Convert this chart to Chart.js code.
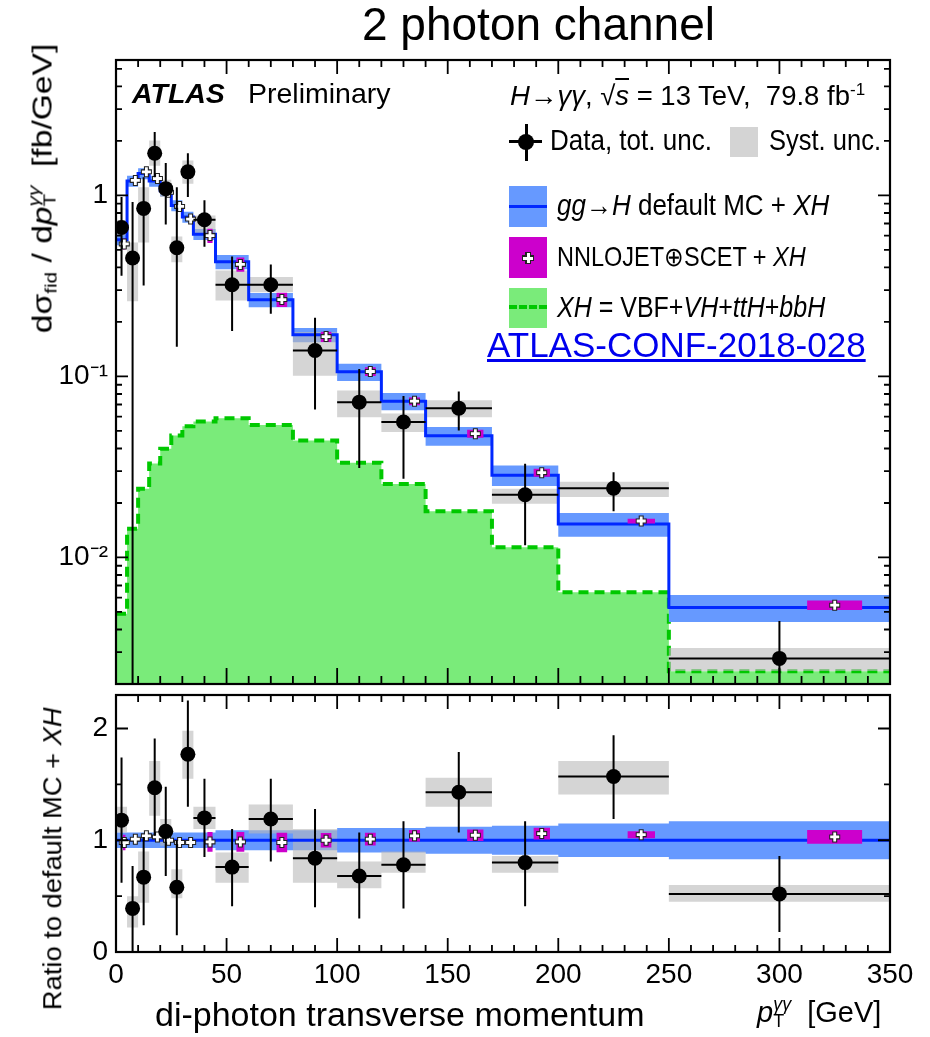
<!DOCTYPE html>
<html>
<head>
<meta charset="utf-8">
<title>2 photon channel</title>
<script src="https://cdn.jsdelivr.net/npm/chart.js@4/dist/chart.umd.min.js"></script>
<style>
html,body{margin:0;padding:0;background:#fff;}
body{position:relative;width:930px;height:1037px;overflow:hidden;font-family:"Liberation Sans",Arial,Helvetica,sans-serif;color:#000;}
canvas{position:absolute;left:0;}
.t{position:absolute;white-space:nowrap;line-height:1;}
.lg{transform:scaleY(1.15);transform-origin:0 0.8465em;}
.stk{display:inline-block;vertical-align:-0.28em;line-height:0.95;font-size:0.62em;text-align:left;}
.sw{position:absolute;}
</style>
</head>
<body>
<canvas id="cTop" width="930" height="710" style="top:0"></canvas>
<canvas id="cRatio" width="930" height="367" style="top:670px"></canvas>

<div class="t" style="left:362px;top:1px;font-size:46px;">2 photon channel</div>
<div class="t" style="left:132px;top:79px;font-size:28.5px;font-weight:bold;font-style:italic;">ATLAS</div>
<div class="t" style="left:248px;top:79px;font-size:28.5px;">Preliminary</div>
<div class="t" style="left:510px;top:82px;font-size:27.5px;"><i>H</i>→<i>γγ</i>, √<span style="text-decoration:overline"><i>s</i></span> = 13 TeV,&nbsp; 79.8 fb<sup style="font-size:0.62em;vertical-align:0.6em;line-height:0">-1</sup></div>

<!-- legend swatches -->
<div class="sw" style="left:525px;top:124px;width:2.5px;height:37px;background:#000"></div>
<div class="sw" style="left:509px;top:140px;width:33px;height:2.5px;background:#000"></div>
<div class="sw" style="left:518px;top:133.5px;width:16px;height:16px;border-radius:50%;background:#000"></div>
<div class="sw" style="left:730px;top:127px;width:28px;height:30px;background:#d4d4d4"></div>
<div class="sw" style="left:509px;top:186px;width:38px;height:41px;background:rgb(102,153,255)"></div>
<div class="sw" style="left:509px;top:205px;width:38px;height:3px;background:rgb(0,40,255)"></div>
<div class="sw" style="left:509px;top:237px;width:38px;height:41px;background:rgb(204,0,204)"></div>
<div class="sw" style="left:522px;top:255px;width:12px;height:6px;background:#222"></div>
<div class="sw" style="left:525px;top:252px;width:6px;height:12px;background:#222"></div>
<div class="sw" style="left:523px;top:256.5px;width:10px;height:3px;background:#fff"></div>
<div class="sw" style="left:526.5px;top:253px;width:3px;height:10px;background:#fff"></div>
<div class="sw" style="left:509px;top:288px;width:38px;height:40px;background:rgb(122,235,122)"></div>
<div class="sw" style="left:509px;top:305px;width:38px;height:0;border-top:4.5px dashed rgb(0,200,0)"></div>

<!-- legend text -->
<div class="t lg" style="left:550px;top:128px;font-size:26px;">Data, tot. unc.</div>
<div class="t lg" style="left:769px;top:128.5px;font-size:25.5px;">Syst. unc.</div>
<div class="t lg" style="left:557px;top:193px;font-size:26px;"><i>gg</i>→<i>H</i> default MC + <i>XH</i></div>
<div class="t lg" style="left:557px;top:247px;font-size:23.5px;">NNLOJET⊕SCET + <i>XH</i></div>
<div class="t lg" style="left:557px;top:296px;font-size:25px;"><i>XH</i> = VBF+<i>VH</i>+<i>ttH</i>+<i>bbH</i></div>

<div class="t" style="left:487px;top:327px;font-size:35px;color:#0000ee;text-decoration:underline;">ATLAS-CONF-2018-028</div>

<!-- axis titles -->
<div class="t" style="left:-138px;top:172px;width:360px;text-align:center;font-size:28px;transform:rotate(-90deg) scaleX(1.2);">dσ<span style="font-size:0.62em;vertical-align:-0.3em;line-height:0">fid</span> / d<i>p</i><span class="stk"><i>γγ</i><br>T</span>&nbsp; [fb/GeV]</div>
<div class="t" style="left:-117px;top:846px;width:340px;text-align:center;font-size:25.5px;transform:rotate(-90deg) scaleX(1.07);">Ratio to default MC + <i>XH</i></div>
<div class="t" style="left:155px;top:997px;font-size:34px;">di-photon transverse momentum</div>
<div class="t" style="left:757px;top:996px;font-size:29px;"><i>p</i><span class="stk"><i>γγ</i><br>T</span>&nbsp; [GeV]</div>

<script>
// ---------------- data ----------------
const binEdges   = [0,5,10,15,20,25,30,35,45,60,80,100,120,140,170,200,250,350];
const binCenters = [2.5,7.5,12.5,17.5,22.5,27.5,32.5,40,52.5,70,90,110,130,155,185,225,300];

const xTickValues = [0,50,100,150,200,250,300,350];
const xTickLabels = ['0','50','100','150','200','250','300','350'];
const yTopTickValues = [0.01,0.1,1];
const yTopTickLabels = ['10⁻²','10⁻¹','1'];
const yRatioTickValues = [0,1,2];
const yRatioTickLabels = ['0','1','2'];

// measured cross section [fb/GeV]
const dataXsec   = [0.665,0.451,0.848,1.71,1.09,0.514,1.35,0.734,0.321,0.321,0.139,0.0721,0.056,0.0668,0.0222,0.0241,0.00277];
const dataTotHi  = [0.98,0.92,1.26,2.24,1.51,1.11,1.71,0.94,0.46,0.416,0.211,0.110,0.0781,0.0826,0.0329,0.0296,0.00446];
const dataTotLo  = [0.36,0.001,0.318,1.26,0.69,0.146,0.98,0.52,0.178,0.222,0.0657,0.0312,0.0272,0.0503,0.0117,0.0180,0.001];
const dataSystHi = [0.73,0.55,1.11,2.01,1.22,0.594,1.56,0.775,0.385,0.354,0.176,0.0837,0.0625,0.0738,0.0240,0.0262,0.00316];
const dataSystLo = [0.60,0.26,0.55,1.46,0.98,0.428,1.16,0.617,0.263,0.292,0.101,0.0596,0.0494,0.0596,0.0198,0.0216,0.00236];

// gg->H default MC + XH
const defaultMC       = [0.57,1.2,1.32,1.2,1.06,0.88,0.76,0.61,0.43,0.265,0.17,0.106,0.073,0.047,0.0285,0.0153,0.0053];
const defaultMCRelUnc = [0.07,0.07,0.07,0.07,0.07,0.07,0.07,0.07,0.09,0.09,0.09,0.11,0.11,0.12,0.13,0.15,0.17];

// XH = VBF+VH+ttH+bbH
const xhVal = [0.00489,0.0144,0.0240,0.033,0.0399,0.0472,0.053,0.0564,0.0588,0.054,0.0443,0.0334,0.0255,0.0180,0.0114,0.00643,0.00235];

// NNLOJET+SCET + XH
const nnloX      = [3.75,8.75,13.75,18.75,23.75,28.75,33.75,42.5,56.25,75,95,115,135,162.5,192.5,237.5,325];
const nnloVal    = [0.54,1.21,1.35,1.24,1.04,0.87,0.74,0.60,0.416,0.266,0.166,0.1065,0.073,0.0483,0.0294,0.0159,0.00545];
const nnloRelUnc = [0.07,0.03,0.03,0.03,0.03,0.03,0.03,0.09,0.09,0.09,0.065,0.057,0.05,0.05,0.05,0.03,0.06];
const nnloRatio  = [0.98,1.01,1.04,1.03,1.0,0.98,0.98,0.985,0.985,0.98,1.0,1.01,1.04,1.045,1.06,1.05,1.03];

// ratio to default MC + XH
const ratioVal    = [1.18,0.39,0.67,1.47,1.08,0.58,1.77,1.2,0.76,1.19,0.84,0.68,0.78,1.43,0.8,1.57,0.52];
const ratioTotHi  = [1.74,0.77,1.03,1.91,1.48,1.0,2.25,1.55,1.1,1.55,1.28,1.07,1.17,1.79,1.17,1.94,0.86];
const ratioTotLo  = [0.62,0,0.24,1.04,0.68,0.15,1.3,0.85,0.41,0.81,0.4,0.3,0.39,1.07,0.41,1.19,0.18];
const ratioSystHi = [1.30,0.5,0.9,1.71,1.19,0.74,1.98,1.3,0.89,1.32,1.1,0.81,0.9,1.56,0.86,1.71,0.6];
const ratioSystLo = [1.07,0.22,0.44,1.22,0.95,0.48,1.55,1.1,0.62,1.06,0.62,0.57,0.71,1.30,0.71,1.41,0.45];
const ratioReference = 1;

// ---------------- styles ----------------
const FONT = '"Liberation Sans", Arial, Helvetica, sans-serif';
const C = {
  green: 'rgb(122,235,122)', greenLine: 'rgb(0,200,0)',
  band: 'rgb(102,153,255)', mcLine: 'rgb(0,40,255)',
  syst: 'rgba(185,185,185,0.6)', magenta: 'rgb(204,0,204)'
};

// ---------------- helpers building library data ----------------
function stepPoints(vals){
  const pts = vals.map((v,i)=>({x:binEdges[i], y:v}));
  pts.push({x:binEdges[binEdges.length-1], y:vals[vals.length-1]});
  return pts;
}
function vBarPoints(lo, hi){
  const pts = [];
  binCenters.forEach((x,i)=>{ pts.push({x, y:lo[i]}, {x, y:hi[i]}, {x, y:null}); });
  return pts;
}
function hBarPoints(vals){
  const pts = [];
  vals.forEach((v,i)=>{ pts.push({x:binEdges[i], y:v}, {x:binEdges[i+1], y:v}, {x:binEdges[i+1], y:null}); });
  return pts;
}
function boxPoints(vals){
  const pts = [];
  vals.forEach((v,i)=>{
    const w = binEdges[i+1]-binEdges[i];
    const x0 = nnloX[i]-w/8, x1 = nnloX[i]+w/8;
    pts.push({x:x0, y:v}, {x:x1, y:v}, {x:x1, y:null});
  });
  return pts;
}
function xy(xs, ys){ return xs.map((x,i)=>({x, y:ys[i]})); }
function ds(data, o){
  return Object.assign({type:'line', data, fill:false, spanGaps:false, stepped:false, tension:0,
    pointRadius:0, pointHoverRadius:0, pointHitRadius:0,
    borderWidth:0, borderColor:'rgba(0,0,0,0)', backgroundColor:'rgba(0,0,0,0)'}, o);
}

function makeFrame(cfg){
  return {
    id: 'frameTicks',
    afterDraw(chart){
      const {ctx, chartArea:a} = chart;
      const x = chart.scales.x, y = chart.scales.y;
      ctx.save();
      ctx.strokeStyle = '#000';
      ctx.lineWidth = 1.8;
      ctx.beginPath();
      for (let v = 0; v <= 350; v += 10){
        const px = x.getPixelForValue(v);
        const maj = v % 50 === 0;
        ctx.moveTo(px, a.bottom); ctx.lineTo(px, a.bottom - (maj ? cfg.xMajB : cfg.xMinB));
        ctx.moveTo(px, a.top);    ctx.lineTo(px, a.top + (maj ? cfg.xMajT : cfg.xMinT));
      }
      cfg.yTicks().forEach(([v, maj])=>{
        const py = y.getPixelForValue(v);
        const L = maj ? 12 : 6;
        ctx.moveTo(a.left, py);  ctx.lineTo(a.left + L, py);
        ctx.moveTo(a.right, py); ctx.lineTo(a.right - L, py);
      });
      ctx.stroke();
      ctx.lineWidth = 2.2;
      ctx.strokeRect(a.left, a.top, a.right - a.left, a.bottom - a.top);
      ctx.restore();
    }
  };
}
function logTicks(min, max){
  const out = [];
  for (let e = -3; e <= 0; e++) for (let d = 1; d <= 9; d++){
    const v = d * Math.pow(10, e);
    if (v >= min && v <= max) out.push([v, d === 1]);
  }
  return out;
}

const yTopMin = 0.002, yTopMax = 5.6;

// ---------------- top panel ----------------
const mcHi = defaultMC.map((v,i)=>v*(1+defaultMCRelUnc[i]));
const mcLo = defaultMC.map((v,i)=>v*(1-defaultMCRelUnc[i]));
const nnloHi = nnloVal.map((v,i)=>v*(1+nnloRelUnc[i]));
const nnloLo = nnloVal.map((v,i)=>v*(1-nnloRelUnc[i]));

const topDatasets = [
  ds(stepPoints(xhVal), {order:20, stepped:true, fill:'start', backgroundColor:C.green, borderColor:C.greenLine, borderWidth:4, borderDash:[10,6]}),
  ds(stepPoints(mcHi), {order:15, stepped:true, fill:2, backgroundColor:C.band}),
  ds(stepPoints(mcLo), {order:15, stepped:true}),
  ds(stepPoints(dataSystHi), {order:12, stepped:true, fill:4, backgroundColor:C.syst}),
  ds(stepPoints(dataSystLo), {order:12, stepped:true}),
  ds(stepPoints(defaultMC), {order:10, stepped:true, borderColor:C.mcLine, borderWidth:3}),
  ds(boxPoints(nnloHi), {order:8, fill:7, backgroundColor:C.magenta}),
  ds(boxPoints(nnloLo), {order:8}),
  ds(xy(nnloX, nnloVal), {order:6, showLine:false, pointStyle:'cross', pointRadius:5.5, pointBorderColor:'#222', pointBorderWidth:5}),
  ds(xy(nnloX, nnloVal), {order:5, showLine:false, pointStyle:'cross', pointRadius:4.5, pointBorderColor:'#fff', pointBorderWidth:2.8}),
  ds(vBarPoints(dataTotLo, dataTotHi), {order:4, borderColor:'#000', borderWidth:2}),
  ds(hBarPoints(dataXsec), {order:4, borderColor:'#000', borderWidth:2}),
  ds(xy(binCenters, dataXsec), {order:2, showLine:false, pointStyle:'circle', pointRadius:7.5, pointBackgroundColor:'#000', pointBorderWidth:0})
];

new Chart(document.getElementById('cTop'), {
  type:'line',
  data:{datasets: topDatasets},
  options:{
    responsive:false, animation:false, devicePixelRatio:1, events:[],
    layout:{autoPadding:false, padding:{left:0, right:40, top:60, bottom:26}},
    plugins:{legend:{display:false}, tooltip:{enabled:false}},
    scales:{
      x:{type:'linear', min:0, max:350, display:false},
      y:{type:'logarithmic', min:yTopMin, max:yTopMax,
         afterFit(s){ s.width = 116; },
         afterBuildTicks(s){ s.ticks = yTopTickValues.map(v=>({value:v})); },
         grid:{display:false, drawTicks:false, tickLength:0}, border:{display:false},
         ticks:{autoSkip:false, padding:8, color:'#000', font:{family:FONT, size:28},
           callback(v){ const i = yTopTickValues.findIndex(t=>Math.abs(t-v)/t<1e-6); return i>=0 ? yTopTickLabels[i] : ''; }}}
    }
  },
  plugins:[makeFrame({xMajB:16, xMinB:8, xMajT:14, xMinT:7, yTicks:()=>logTicks(yTopMin, yTopMax)})]
});

// ---------------- ratio panel ----------------
const rBandHi = defaultMCRelUnc.map(r=>ratioReference+r);
const rBandLo = defaultMCRelUnc.map(r=>ratioReference-r);
const rNnloHi = nnloRatio.map((v,i)=>v*(1+nnloRelUnc[i]));
const rNnloLo = nnloRatio.map((v,i)=>v*(1-nnloRelUnc[i]));

const ratioDatasets = [
  ds(stepPoints(rBandHi), {order:15, stepped:true, fill:1, backgroundColor:C.band}),
  ds(stepPoints(rBandLo), {order:15, stepped:true}),
  ds(stepPoints(ratioSystHi), {order:12, stepped:true, fill:3, backgroundColor:C.syst}),
  ds(stepPoints(ratioSystLo), {order:12, stepped:true}),
  ds([{x:binEdges[0], y:ratioReference},{x:binEdges[binEdges.length-1], y:ratioReference}], {order:10, borderColor:C.mcLine, borderWidth:3}),
  ds(boxPoints(rNnloHi), {order:8, fill:6, backgroundColor:C.magenta}),
  ds(boxPoints(rNnloLo), {order:8}),
  ds(xy(nnloX, nnloRatio), {order:6, showLine:false, pointStyle:'cross', pointRadius:5.5, pointBorderColor:'#222', pointBorderWidth:5}),
  ds(xy(nnloX, nnloRatio), {order:5, showLine:false, pointStyle:'cross', pointRadius:4.5, pointBorderColor:'#fff', pointBorderWidth:2.8}),
  ds(vBarPoints(ratioTotLo, ratioTotHi), {order:4, borderColor:'#000', borderWidth:2}),
  ds(hBarPoints(ratioVal), {order:4, borderColor:'#000', borderWidth:2}),
  ds(xy(binCenters, ratioVal), {order:2, showLine:false, pointStyle:'circle', pointRadius:7.5, pointBackgroundColor:'#000', pointBorderWidth:0})
];

new Chart(document.getElementById('cRatio'), {
  type:'line',
  data:{datasets: ratioDatasets},
  options:{
    responsive:false, animation:false, devicePixelRatio:1, events:[],
    layout:{autoPadding:false, padding:{left:0, right:40, top:25, bottom:0}},
    plugins:{legend:{display:false}, tooltip:{enabled:false}},
    scales:{
      x:{type:'linear', min:0, max:350,
         afterFit(s){ s.height = 85; },
         afterBuildTicks(s){ s.ticks = xTickValues.map(v=>({value:v})); },
         grid:{display:false, drawTicks:false, tickLength:0}, border:{display:false},
         ticks:{autoSkip:false, maxRotation:0, padding:6, color:'#000', font:{family:FONT, size:28},
           callback(v){ const i = xTickValues.indexOf(v); return i>=0 ? xTickLabels[i] : ''; }}},
      y:{type:'linear', min:0, max:2.3,
         afterFit(s){ s.width = 116; },
         afterBuildTicks(s){ s.ticks = yRatioTickValues.map(v=>({value:v})); },
         grid:{display:false, drawTicks:false, tickLength:0}, border:{display:false},
         ticks:{autoSkip:false, padding:8, color:'#000', font:{family:FONT, size:28},
           callback(v){ const i = yRatioTickValues.indexOf(v); return i>=0 ? yRatioTickLabels[i] : ''; }}}
    }
  },
  plugins:[makeFrame({xMajB:14, xMinB:7, xMajT:14, xMinT:7, yTicks:()=>[[0,true],[0.5,false],[1,true],[1.5,false],[2,true]]})]
});
</script>
</body>
</html>
